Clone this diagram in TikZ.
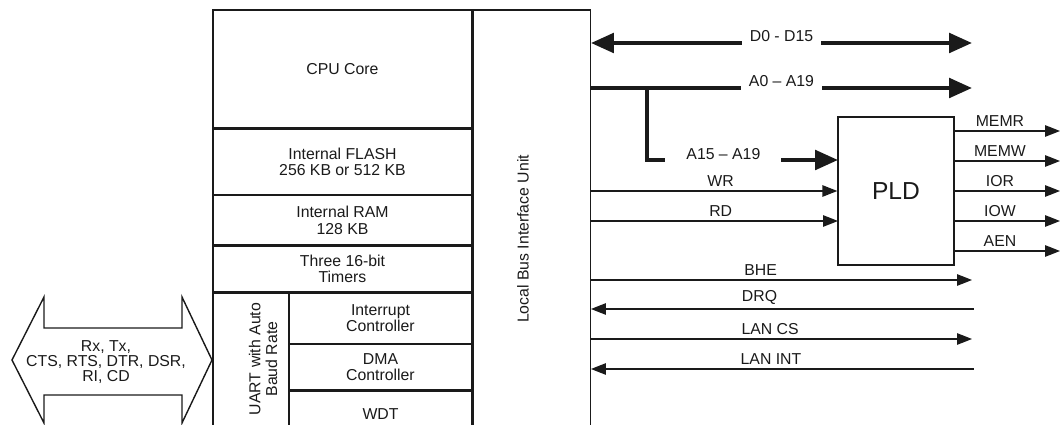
\documentclass[tikz,border=0pt]{standalone}
\usepackage{fontspec}
\setmainfont{Liberation Sans}
\usepackage{xcolor}
\definecolor{ink}{HTML}{1A1A1A}
\usepackage{tikz}
\usetikzlibrary{arrows.meta, positioning, calc}
\newdimen\pxu \pxu=0.02cm
\tikzset{
  >={Triangle[length=8.5pt, width=6.5pt]},
  blk/.style={draw=ink, line width=0.75pt, inner sep=0pt, align=center, text=ink,
    font=\fontsize{9}{9.5}\selectfont},
  sig/.style={line width=0.8pt, color=ink},
  bus/.style={line width=2.3pt, color=ink, >={Triangle[length=13pt, width=11pt]}},
  tag/.style={font=\fontsize{9}{10}\selectfont, text=ink, above, inner sep=2pt},
  gap/.style={fill=white, font=\fontsize{9}{10}\selectfont, text=ink, inner ysep=3pt},
}

\begin{document}
\begin{tikzpicture}[x=1\pxu, y=-1\pxu,
    vtxt/.style={rotate=90, align=center, text=ink, font=\fontsize{9}{9.5}\selectfont}]
  \useasboundingbox (0,0) rectangle (1061,425);
  \clip (0,0) rectangle (1061,425);

  % processor blocks
  \node[blk, minimum width=259\pxu, minimum height=118\pxu] (cpu) at (342.5,69) {CPU Core};
  \node[blk, minimum width=259\pxu, minimum height=65\pxu, below=0pt of cpu] (flash)
    {Internal FLASH\\256 KB or 512 KB};
  \node[blk, minimum width=259\pxu, minimum height=49\pxu, below=0pt of flash] (ram)
    {Internal RAM\\128 KB};
  \node[blk, minimum width=259\pxu, minimum height=46\pxu, below=0pt of ram] (tmr)
    {Three 16-bit\\Timers};
  \node[blk, minimum width=76\pxu, minimum height=152\pxu, anchor=north west] (uart)
    at (tmr.south west) {};
  \node[vtxt] (uarttxt) at (263,359) {UART with Auto\\Baud Rate};
  \node[blk, minimum width=183\pxu, minimum height=50\pxu, anchor=north east] (intr)
    at (tmr.south east) {Interrupt\\Controller};
  \node[blk, minimum width=183\pxu, minimum height=45\pxu, below=0pt of intr] (dma)
    {DMA\\Controller};
  \node[blk, minimum width=183\pxu, minimum height=46\pxu, below=0pt of dma] (wdt) {WDT};
  \node[blk, minimum width=117\pxu, minimum height=458\pxu, anchor=north west] (lbiu)
    at (cpu.north east) {};
  \node[vtxt] (lbiutxt) at (523,239) {Local Bus Interface Unit};

  \node[blk, minimum width=116\pxu, minimum height=148\pxu, font=\fontsize{14}{16}\selectfont]
    (pld) at (896,191) {PLD};

  % serial port arrow
  \draw[sig] (12,360) -- (44,297) -- (44,328) -- (182,328) -- (182,297) -- (212,360)
    -- (182,423) -- (182,395) -- (44,395) -- (44,423) -- cycle;
  \node[align=center, text=ink, font=\fontsize{9}{8.5}\selectfont] (serial) at (106,362)
    {Rx, Tx,\\CTS, RTS, DTR, DSR,\\RI, CD};

  % buses
  \coordinate (dend) at (972,43);
  \coordinate (aend) at (972,88);
  \coordinate (abr) at (647,88);
  \coordinate (a15) at (838,160);
  \draw[bus, <->] (lbiu.east |- dend) -- node[gap, inner xsep=8\pxu, yshift=7\pxu] {D0 - D15} (dend);
  \draw[bus, ->] (lbiu.east |- aend) -- node[gap, inner xsep=8\pxu, yshift=7\pxu] {A0 -- A19} (aend);
  \draw[bus, ->] (abr) |- node[gap, pos=0.70, inner xsep=21\pxu, yshift=6\pxu] {A15 -- A19} (a15);

  % strobes into the PLD
  \coordinate (rdend) at (838,221);
  \draw[sig, ->] (lbiu.east |- pld.west) -- node[tag, pos=0.526] {WR} (pld.west);
  \draw[sig, ->] (lbiu.east |- rdend) -- node[tag, pos=0.525] {RD} (rdend);

  % PLD outputs
  \coordinate (memr) at (1060,131);
  \coordinate (memw) at (1060,161);
  \coordinate (ior) at (1060,191);
  \coordinate (iow) at (1060,221);
  \coordinate (aen) at (1060,251);
  \draw[sig, ->] (pld.east |- memr) -- node[tag, pos=0.43] {MEMR} (memr);
  \draw[sig, ->] (pld.east |- memw) -- node[tag, pos=0.43] {MEMW} (memw);
  \draw[sig, ->] (pld.east |- ior) -- node[tag, pos=0.43] {IOR} (ior);
  \draw[sig, ->] (pld.east |- iow) -- node[tag, pos=0.43] {IOW} (iow);
  \draw[sig, ->] (pld.east |- aen) -- node[tag, pos=0.43] {AEN} (aen);

  % other local bus lines
  \coordinate (bhe) at (972,280);
  \coordinate (drq) at (974,309);
  \coordinate (lancs) at (972,339);
  \coordinate (lanint) at (974,369);
  \draw[sig, ->] (lbiu.east |- bhe) -- node[tag, pos=0.445] {BHE} (bhe);
  \draw[sig, <-] (lbiu.east |- drq) -- node[tag, pos=0.44] {DRQ} (drq);
  \draw[sig, ->] (lbiu.east |- lancs) -- node[tag, pos=0.47] {LAN CS} (lancs);
  \draw[sig, <-] (lbiu.east |- lanint) -- node[tag, pos=0.47] {LAN INT} (lanint);
\end{tikzpicture}
\end{document}
